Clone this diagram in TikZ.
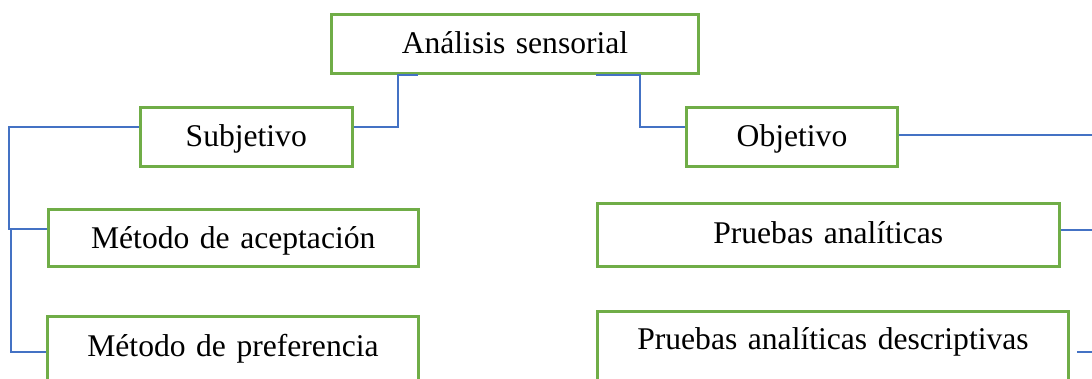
\documentclass[tikz,border=0pt]{standalone}
\usepackage{fontspec}
\setmainfont{Liberation Serif}
\definecolor{boxgreen}{HTML}{70AD47}
\definecolor{linkblue}{HTML}{4472C4}
\begin{document}
\begin{tikzpicture}[x=1pt,y=-1pt,
  box/.style={draw=boxgreen, line width=3pt, rectangle, inner sep=0pt,
    anchor=north west, align=center, font=\fontsize{31.6}{38}\selectfont},
  link/.style={draw=linkblue, line width=1.3pt}]
\useasboundingbox (0,0) rectangle (1092,379);
\clip (0,0) rectangle (1092,379);
% boxes
\node[box, text width=367pt, text height=39pt, text depth=20pt] (A) at (330,13) {Análisis sensorial};
\node[box, text width=212.5pt, text height=38.5pt, text depth=20pt] (S) at (138.5,106.5) {Subjetivo};
\node[box, text width=211pt, text height=39pt, text depth=20pt] (O) at (685,106) {Objetivo};
\node[box, text width=370.5pt, text height=38.2pt, text depth=18.3pt] (MA) at (46.5,208.5) {Método de aceptación};
\node[box, text width=371pt, text height=39.5pt, text depth=70pt] (MP) at (46,315) {Método de preferencia};
\node[box, text width=461.5pt, text height=39.5pt, text depth=23.5pt] (PA) at (596,202.5) {Pruebas analíticas};
\node[box, text width=471pt, text height=38pt, text depth=70pt] (PD) at (596,310) {Pruebas analíticas descriptivas};
% connectors
\draw[link] ([xshift=88pt]A.south west) -- ([xshift=68pt]A.south west) |- ([yshift=-20.5pt]S.north east);
\draw[link] ([xshift=266pt]A.south west) -- ([xshift=310pt]A.south west) |- ([yshift=-21pt]O.north west);
\draw[link] ([yshift=-20.5pt]S.north west) -- ++(-129.5,0) |- ([yshift=-20.5pt]MA.north west);
\draw[link] ([xshift=-35.5pt,yshift=-20.5pt]MA.north west) |- ([yshift=-37pt]MP.north west);
\draw[link] ([yshift=-29pt]O.north east) -- ++(200,0);
\draw[link] ([yshift=-27.5pt]PA.north east) -- ++(40,0);
\draw[link] ([xshift=7pt,yshift=-42pt]PD.north east) -- ++(30,0);
\end{tikzpicture}
\end{document}
